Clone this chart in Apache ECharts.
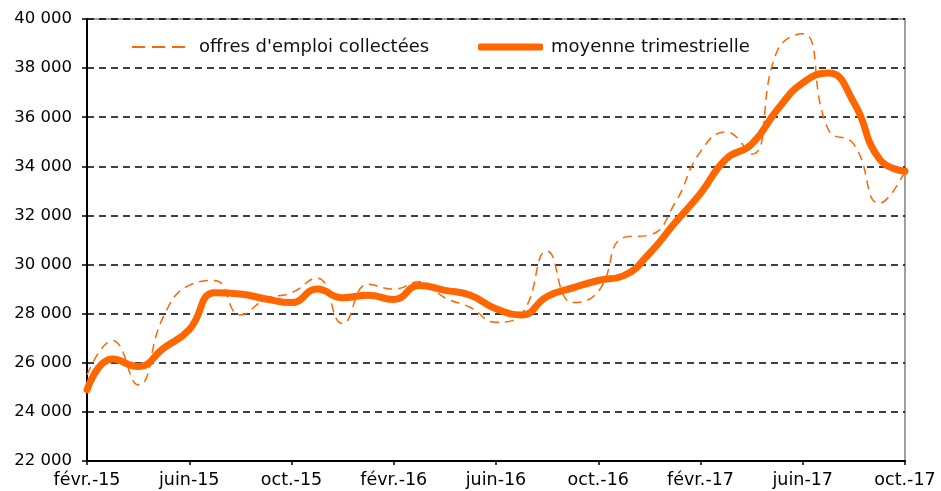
<!DOCTYPE html>
<html>
<head>
<meta charset="utf-8">
<script src="https://cdn.jsdelivr.net/npm/echarts@6/dist/echarts.min.js"></script>
<style>
  html, body { margin: 0; padding: 0; background: #fff; }
  #chart { width: 941px; height: 491px; }
</style>
</head>
<body>
<div id="chart"></div>
<script>
// mois, de févr. 2015 à oct. 2017
const months = [
  "févr.-15", "mars-15", "avr.-15", "mai-15", "juin-15", "juil.-15", "août-15", "sept.-15",
  "oct.-15", "nov.-15", "déc.-15", "janv.-16", "févr.-16", "mars-16", "avr.-16", "mai-16",
  "juin-16", "juil.-16", "août-16", "sept.-16", "oct.-16", "nov.-16", "déc.-16", "janv.-17",
  "févr.-17", "mars-17", "avr.-17", "mai-17", "juin-17", "juil.-17", "août-17", "sept.-17",
  "oct.-17"
];

const offres = [
  25500, 26900, 25100, 27900, 29150, 29350, 27950, 28600,
  28850, 29450, 27600, 29200, 29000, 29300, 28650, 28250,
  27650, 28000, 30550, 28450, 28900, 31100, 31200, 32500,
  34600, 35400, 34500, 38700, 39400, 35500, 34900, 32500,
  33800
];

const moyenne = [
  24900, 26150, 25850, 26600, 27350, 28850, 28800, 28600,
  28450, 29000, 28650, 28750, 28580, 29150, 28950, 28750,
  28200, 27950, 28700, 29050, 29350, 29550, 30450, 31700,
  32900, 34300, 34900, 36300, 37400, 37800, 36600, 34300,
  33800
];

const yTicks = [22000, 24000, 26000, 28000, 30000, 32000, 34000, 36000, 38000, 40000];

const orange = "#ff6600";
const font = "DejaVu Sans";

const chart = echarts.init(document.getElementById("chart"));

const legendText = { fontFamily: font, fontSize: 18, color: "#111" };

const option = {
  animation: false,
  backgroundColor: "#fff",
  textStyle: { fontFamily: font },
  grid: {
    left: 87,
    right: 36,
    top: 19,
    bottom: 30,
    show: true,
    borderColor: "#808080",
    borderWidth: 1.5,
  },
  legend: [
    {
      data: ["offres d'emploi collectées"],
      left: 127,
      top: 33,
      itemWidth: 53,
      itemHeight: 2.5,
      itemGap: 14,
      icon: "path://M0,0h13v2h-13z M20,0h13v2h-13z M40,0h13v2h-13z",
      textStyle: Object.assign({ padding: [0, 0, 0, 9] }, legendText),
    },
    {
      data: ["moyenne trimestrielle"],
      left: 473,
      top: 33,
      itemWidth: 65,
      itemHeight: 7,
      icon: "roundRect",
      textStyle: Object.assign({ padding: [0, 0, 0, 3] }, legendText),
    },
  ],
  xAxis: {
    type: "category",
    boundaryGap: false,
    data: months,
    axisLine: { lineStyle: { color: "#000", width: 2 } },
    axisTick: { interval: 3, length: 4, lineStyle: { color: "#000", width: 1.5 } },
    axisLabel: {
      interval: 3,
      fontFamily: font,
      fontSize: 17.5,
      color: "#000",
      margin: 10,
    },
    splitLine: { show: false },
  },
  yAxis: {
    type: "value",
    min: yTicks[0],
    max: yTicks[yTicks.length - 1],
    interval: 2000,
    axisLine: { show: true, lineStyle: { color: "#000", width: 2 } },
    axisTick: { show: true, length: 5, lineStyle: { color: "#000", width: 1.5 } },
    axisLabel: {
      fontFamily: font,
      fontSize: 16.5,
      color: "#000",
      margin: 15,
      formatter: (v) => String(v).replace(/\B(?=(\d{3})+(?!\d))/g, " "),
    },
    splitLine: {
      show: true,
      lineStyle: { color: "#000", type: [7, 5], width: 1.5 },
    },
  },
  series: [
    {
      name: "offres d'emploi collectées",
      type: "line",
      data: offres,
      smooth: 0.5,
      showSymbol: false,
      symbol: "none",
      lineStyle: { color: orange, width: 1.5, type: [9, 6] },
      itemStyle: { color: orange },
      z: 3,
    },
    {
      name: "moyenne trimestrielle",
      type: "line",
      data: moyenne,
      smooth: 0.5,
      showSymbol: false,
      symbol: "none",
      lineStyle: { color: orange, width: 7, cap: "round" },
      itemStyle: { color: orange },
      z: 4,
    },
  ],
};

chart.setOption(option);
</script>
</body>
</html>
